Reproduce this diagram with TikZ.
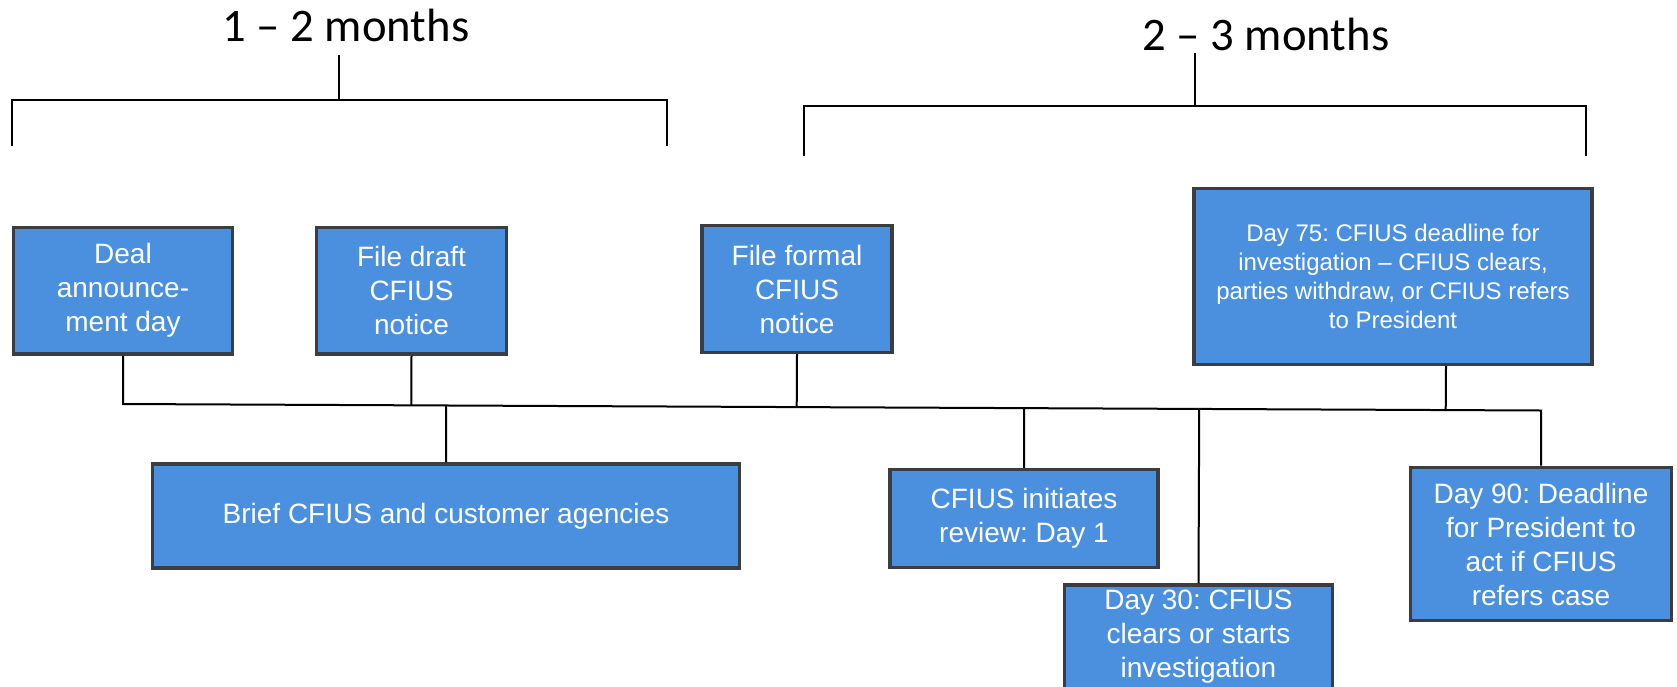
\documentclass[tikz,border=0pt]{standalone}
\usepackage{fontspec}
\setmainfont{Liberation Sans}
\newfontfamily\spanfont{Carlito}
\definecolor{eventblue}{RGB}{74, 144, 222}
\definecolor{edgegray}{RGB}{58, 62, 67}
\usetikzlibrary{calc}
\frenchspacing
\tikzset{
  eventbox/.style={draw=edgegray, fill=eventblue, line width=2.6pt, text=white, align=center, inner sep=4pt, font=\fontsize{21}{25.5}\selectfont},
  link/.style={line width=1.5pt, black},
  spanlabel/.style={font=\spanfont\fontsize{35}{40}\selectfont, anchor=base, inner sep=0pt}
}

\begin{document}
\begin{tikzpicture}[x=0.75pt, y=-0.75pt]
  \useasboundingbox (0, 0) rectangle (1677, 686);

  % Time spans
  \node[spanlabel] (span1) at (346, 41) {1 – 2 months};
  \node[spanlabel] (span2) at (1266, 50) {2 – 3 months};

  \coordinate (span1-tip) at (339, 55);
  \coordinate (span1-top) at (339, 100);
  \coordinate (span1-l) at (12, 146);
  \coordinate (span1-r) at (667, 146);
  \draw[link] (span1-l) |- (span1-top) -| (span1-r);
  \draw[link] (span1-top) -- (span1-tip);

  \coordinate (span2-tip) at (1195, 53);
  \coordinate (span2-top) at (1195, 106);
  \coordinate (span2-l) at (804, 156);
  \coordinate (span2-r) at (1586, 156);
  \draw[link] (span2-l) |- (span2-top) -| (span2-r);
  \draw[link] (span2-top) -- (span2-tip);

  % Upper events
  \node[eventbox, minimum width=164pt, minimum height=95pt] (deal) at (123, 290.7) {Deal\\announce-\\ment day};
  \node[eventbox, minimum width=142.5pt, minimum height=95pt] (draft) at (411.5, 290.7) {File draft\\CFIUS\\notice};
  \node[eventbox, minimum width=142.5pt, minimum height=95pt] (formal) at (797, 289) {File formal\\CFIUS\\notice};
  \node[eventbox, minimum width=298.5pt, minimum height=132pt, font=\fontsize{18}{21.75}\selectfont] (day75) at (1393, 276.5) {
    Day 75: CFIUS deadline for\\
    investigation – CFIUS clears,\\
    parties withdraw, or CFIUS refers\\
    to President
  };

  % Lower events
  \node[eventbox, minimum width=440pt, minimum height=78pt] (brief) at (446, 516) {Brief CFIUS and customer agencies};
  \node[eventbox, minimum width=201pt, minimum height=73.5pt] (initiates) at (1024, 518.5) {CFIUS initiates\\review: Day 1};
  \node[eventbox, minimum width=201pt, minimum height=77pt] (day30) at (1198.5, 637) {Day 30: CFIUS\\clears or starts\\investigation};
  \node[eventbox, minimum width=196pt, minimum height=115pt] (day90) at (1541, 544) {Day 90: Deadline\\for President to\\act if CFIUS\\refers case};

  % Timeline
  \coordinate (tl-l) at (123, 404);
  \coordinate (tl-r) at (1541, 410.5);
  \draw[link] (deal.south) -- (tl-l) -- (tl-r) -- (tl-r |- day90.north);

  \draw[link] (draft.south) -- ($(tl-l)!(draft.south)!(tl-r)$);
  \draw[link] (formal.south) -- ($(tl-l)!(formal.south)!(tl-r)$);
  \draw[link] ($(day75.south)+(53, 0)$) -- ($(tl-l)!($(day75.south)+(53, 0)$)!(tl-r)$);
  \draw[link] (brief.north) -- ($(tl-l)!(brief.north)!(tl-r)$);
  \draw[link] (initiates.north) -- ($(tl-l)!(initiates.north)!(tl-r)$);
  \draw[link] (day30.north) -- ($(tl-l)!(day30.north)!(tl-r)$);
\end{tikzpicture}
\end{document}
